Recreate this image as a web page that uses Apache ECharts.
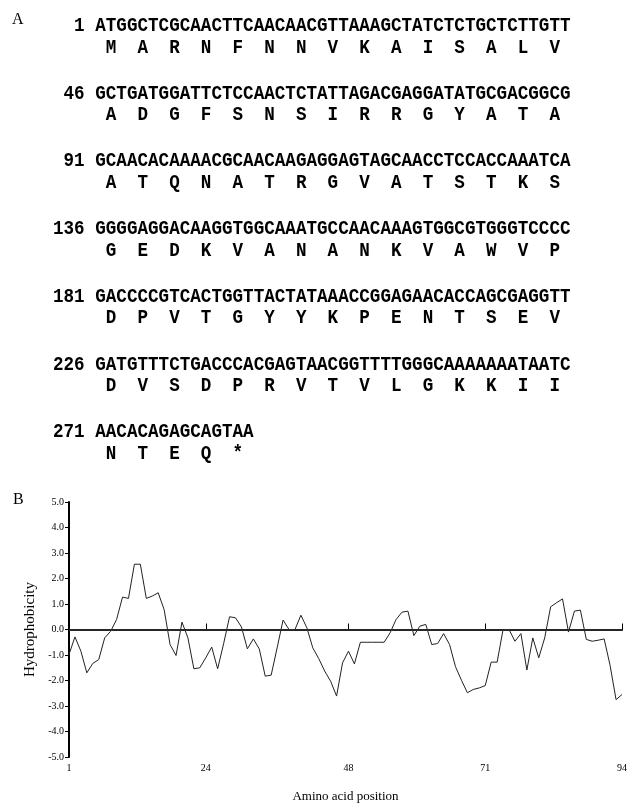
<!DOCTYPE html>
<html>
<head>
<meta charset="utf-8">
<script src="https://cdn.jsdelivr.net/npm/echarts@6/dist/echarts.min.js"></script>
<style>
html,body{margin:0;padding:0;background:#fff;}
#chart{width:637px;height:808px;}
</style>
</head>
<body>
<div id="chart"></div>
<script>
// ---- Panel A data ----
const rowStarts = [1, 46, 91, 136, 181, 226, 271];
const dnaRows = [
  "ATGGCTCGCAACTTCAACAACGTTAAAGCTATCTCTGCTCTTGTT",
  "GCTGATGGATTCTCCAACTCTATTAGACGAGGATATGCGACGGCG",
  "GCAACACAAAACGCAACAAGAGGAGTAGCAACCTCCACCAAATCA",
  "GGGGAGGACAAGGTGGCAAATGCCAACAAAGTGGCGTGGGTCCCC",
  "GACCCCGTCACTGGTTACTATAAACCGGAGAACACCAGCGAGGTT",
  "GATGTTTCTGACCCACGAGTAACGGTTTTGGGCAAAAAAATAATC",
  "AACACAGAGCAGTAA"
];
const aminoRows = [
  ["M","A","R","N","F","N","N","V","K","A","I","S","A","L","V"],
  ["A","D","G","F","S","N","S","I","R","R","G","Y","A","T","A"],
  ["A","T","Q","N","A","T","R","G","V","A","T","S","T","K","S"],
  ["G","E","D","K","V","A","N","A","N","K","V","A","W","V","P"],
  ["D","P","V","T","G","Y","Y","K","P","E","N","T","S","E","V"],
  ["D","V","S","D","P","R","V","T","V","L","G","K","K","I","I"],
  ["N","T","E","Q","*"]
];

// ---- Panel B data ----
const xTickLabels = ["1", "24", "48", "71", "94"];
const hydrophobicity = [
  -0.98, -0.29, -0.85, -1.70, -1.33, -1.18, -0.33, -0.07, 0.39, 1.27,
   1.22,  2.56,  2.56,  1.22,  1.31,  1.44,  0.78, -0.59, -1.02, 0.29,
  -0.33, -1.54, -1.50, -1.11, -0.69, -1.54, -0.56,  0.50,  0.46, 0.10,
  -0.76, -0.37, -0.76, -1.83, -1.79, -0.72,  0.37,  0.00,  0.00, 0.56,
   0.07, -0.72, -1.14, -1.63, -2.03, -2.61, -1.31, -0.85, -1.35, -0.50,
  -0.50, -0.50, -0.50, -0.50, -0.13,  0.39,  0.68,  0.72, -0.24, 0.13,
   0.20, -0.59, -0.55, -0.16, -0.59, -1.46, -1.99, -2.48, -2.35, -2.29,
  -2.20, -1.28, -1.28,  0.00,  0.00, -0.46, -0.16, -1.59, -0.33, -1.11,
  -0.33,  0.89,  1.05,  1.20, -0.10,  0.72,  0.76, -0.39, -0.46, -0.42,
  -0.37, -1.41, -2.75, -2.55
];
const positions = hydrophobicity.map((_, i) => String(i + 1));

// ---- layout ----
const textX = 53, rowY0 = 26, rowStep = 67.7, aminoOffset = 21.5;
const seqFont = 'bold 20px "Liberation Mono"';
const seqScaleX = 0.88;

const graphics = [];
graphics.push({type:'text', x:12, y:20, style:{text:'A', font:'16px "Liberation Serif"', fill:'#000', textVerticalAlign:'middle'}});
graphics.push({type:'text', x:13, y:500, style:{text:'B', font:'16px "Liberation Serif"', fill:'#000', textVerticalAlign:'middle'}});

rowStarts.forEach((n, r) => {
  const num = String(n).padStart(3, ' ');
  const y = rowY0 + r * rowStep;
  graphics.push({type:'text', x:textX, y:y, scaleX:seqScaleX, originX:0,
    style:{text: num + ' ' + dnaRows[r], font: seqFont, fill:'#000', textVerticalAlign:'middle'}});
  graphics.push({type:'text', x:textX, y:y + aminoOffset, scaleX:seqScaleX, originX:0,
    style:{text: '    ' + ' ' + aminoRows[r].join('  '), font: seqFont, fill:'#000', textVerticalAlign:'middle'}});
});

const tickSet = new Set(xTickLabels);
const tickFn = (idx, val) => tickSet.has(val);

const chart = echarts.init(document.getElementById('chart'), null, {renderer:'canvas'});
chart.setOption({
  animation: false,
  backgroundColor: '#fff',
  graphic: graphics,
  grid: {left: 69, right: 15, top: 502, bottom: 51},
  xAxis: {
    type: 'category',
    data: positions,
    boundaryGap: false,
    name: 'Amino acid position',
    nameLocation: 'middle',
    nameGap: 33,
    nameTextStyle: {fontFamily: 'Liberation Serif', fontSize: 13, color: '#000'},
    axisLine: {lineStyle: {color: '#000', width: 2}},
    axisTick: {show: true, inside: true, length: 6, interval: tickFn, lineStyle: {color: '#000', width: 1}},
    axisLabel: {interval: tickFn, fontFamily: 'Liberation Serif', fontSize: 10, color: '#000', margin: 6},
    splitLine: {show: false}
  },
  yAxis: {
    type: 'value',
    min: -5, max: 5, interval: 1,
    name: 'Hydrophobicity',
    nameLocation: 'middle',
    nameRotate: 90,
    nameGap: 22,
    nameTextStyle: {fontFamily: 'Liberation Serif', fontSize: 15, color: '#000'},
    axisLine: {show: true, lineStyle: {color: '#000', width: 2}},
    axisTick: {show: true, length: 4, lineStyle: {color: '#000', width: 1}},
    axisLabel: {formatter: v => v.toFixed(1), fontFamily: 'Liberation Serif', fontSize: 10, color: '#000', margin: 5},
    splitLine: {show: false}
  },
  series: [{
    type: 'line',
    data: hydrophobicity,
    showSymbol: false,
    lineStyle: {color: '#222', width: 1},
    markLine: {
      silent: true,
      symbol: 'none',
      label: {show: false},
      lineStyle: {color: '#333', width: 1.5, type: 'solid'},
      data: [{yAxis: 0}]
    }
  }]
});
</script>
</body>
</html>
